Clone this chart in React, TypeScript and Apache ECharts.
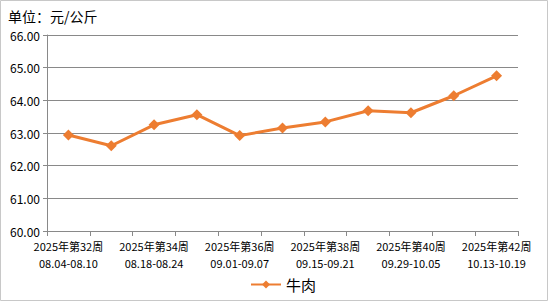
import React, { useEffect, useRef } from "react";
import * as echarts from "echarts";

const categories = [
  "2025年第32周\n08.04-08.10",
  "2025年第33周\n08.11-08.17",
  "2025年第34周\n08.18-08.24",
  "2025年第35周\n08.25-08.31",
  "2025年第36周\n09.01-09.07",
  "2025年第37周\n09.08-09.14",
  "2025年第38周\n09.15-09.21",
  "2025年第39周\n09.22-09.28",
  "2025年第40周\n09.29-10.05",
  "2025年第41周\n10.06-10.12",
  "2025年第42周\n10.13-10.19",
];
const beef = [62.94, 62.61, 63.25, 63.56, 62.92, 63.15, 63.34, 63.68, 63.62, 64.14, 64.75];
const seriesName = "牛肉";
const unitTitle = "单位：元/公斤";

const FONT = "'Noto Sans CJK SC', 'Noto Sans', sans-serif";

export default function App() {
  const ref = useRef<HTMLDivElement>(null);
  useEffect(() => {
    document.body.style.margin = "0";
    const chart = echarts.init(ref.current!, undefined, { renderer: "svg" });
    chart.setOption({
      animation: false,
      backgroundColor: "#fff",
      textStyle: { fontFamily: FONT },
      title: {
        text: unitTitle,
        left: 3,
        top: 4,
        textStyle: { fontSize: 14, fontWeight: "normal", color: "#000", fontFamily: FONT },
      },
      graphic: [
        {
          type: "rect",
          shape: { x: 0.5, y: 0.5, width: 547, height: 300 },
          style: { fill: "none", stroke: "#c8c8c8", lineWidth: 1 },
          silent: true,
        },
      ],
      legend: {
        bottom: 5,
        left: 245,
        itemWidth: 30,
        itemHeight: 10,
        itemGap: 4,
        textStyle: { fontSize: 15, color: "#000", fontFamily: FONT },
        data: [seriesName],
      },
      grid: { left: 47, right: 30, top: 35, bottom: 71 },
      xAxis: {
        type: "category",
        data: categories,
        boundaryGap: true,
        axisLine: { lineStyle: { color: "#898989", width: 1 } },
        axisTick: { show: true, interval: 0, length: 5, lineStyle: { color: "#898989" } },
        axisLabel: {
          interval: 1,
          color: "#000",
          fontSize: 11,
          lineHeight: 17,
          margin: 6,
          fontFamily: FONT,
        },
      },
      yAxis: {
        type: "value",
        min: 60,
        max: 66,
        interval: 1,
        axisLine: { show: true, lineStyle: { color: "#898989" } },
        axisTick: { show: true, length: 4, lineStyle: { color: "#898989" } },
        splitLine: { lineStyle: { color: "#898989", width: 1 } },
        axisLabel: {
          color: "#000",
          fontSize: 12,
          margin: 7,
          fontFamily: FONT,
          formatter: (v: number) => v.toFixed(2),
        },
      },
      series: [
        {
          name: seriesName,
          type: "line",
          data: beef,
          symbol: "diamond",
          symbolSize: 11,
          itemStyle: { color: "#ED7D31" },
          lineStyle: { color: "#ED7D31", width: 3 },
        },
      ],
    });
    return () => chart.dispose();
  }, []);
  return <div ref={ref} style={{ width: 548, height: 302 }} />;
}
